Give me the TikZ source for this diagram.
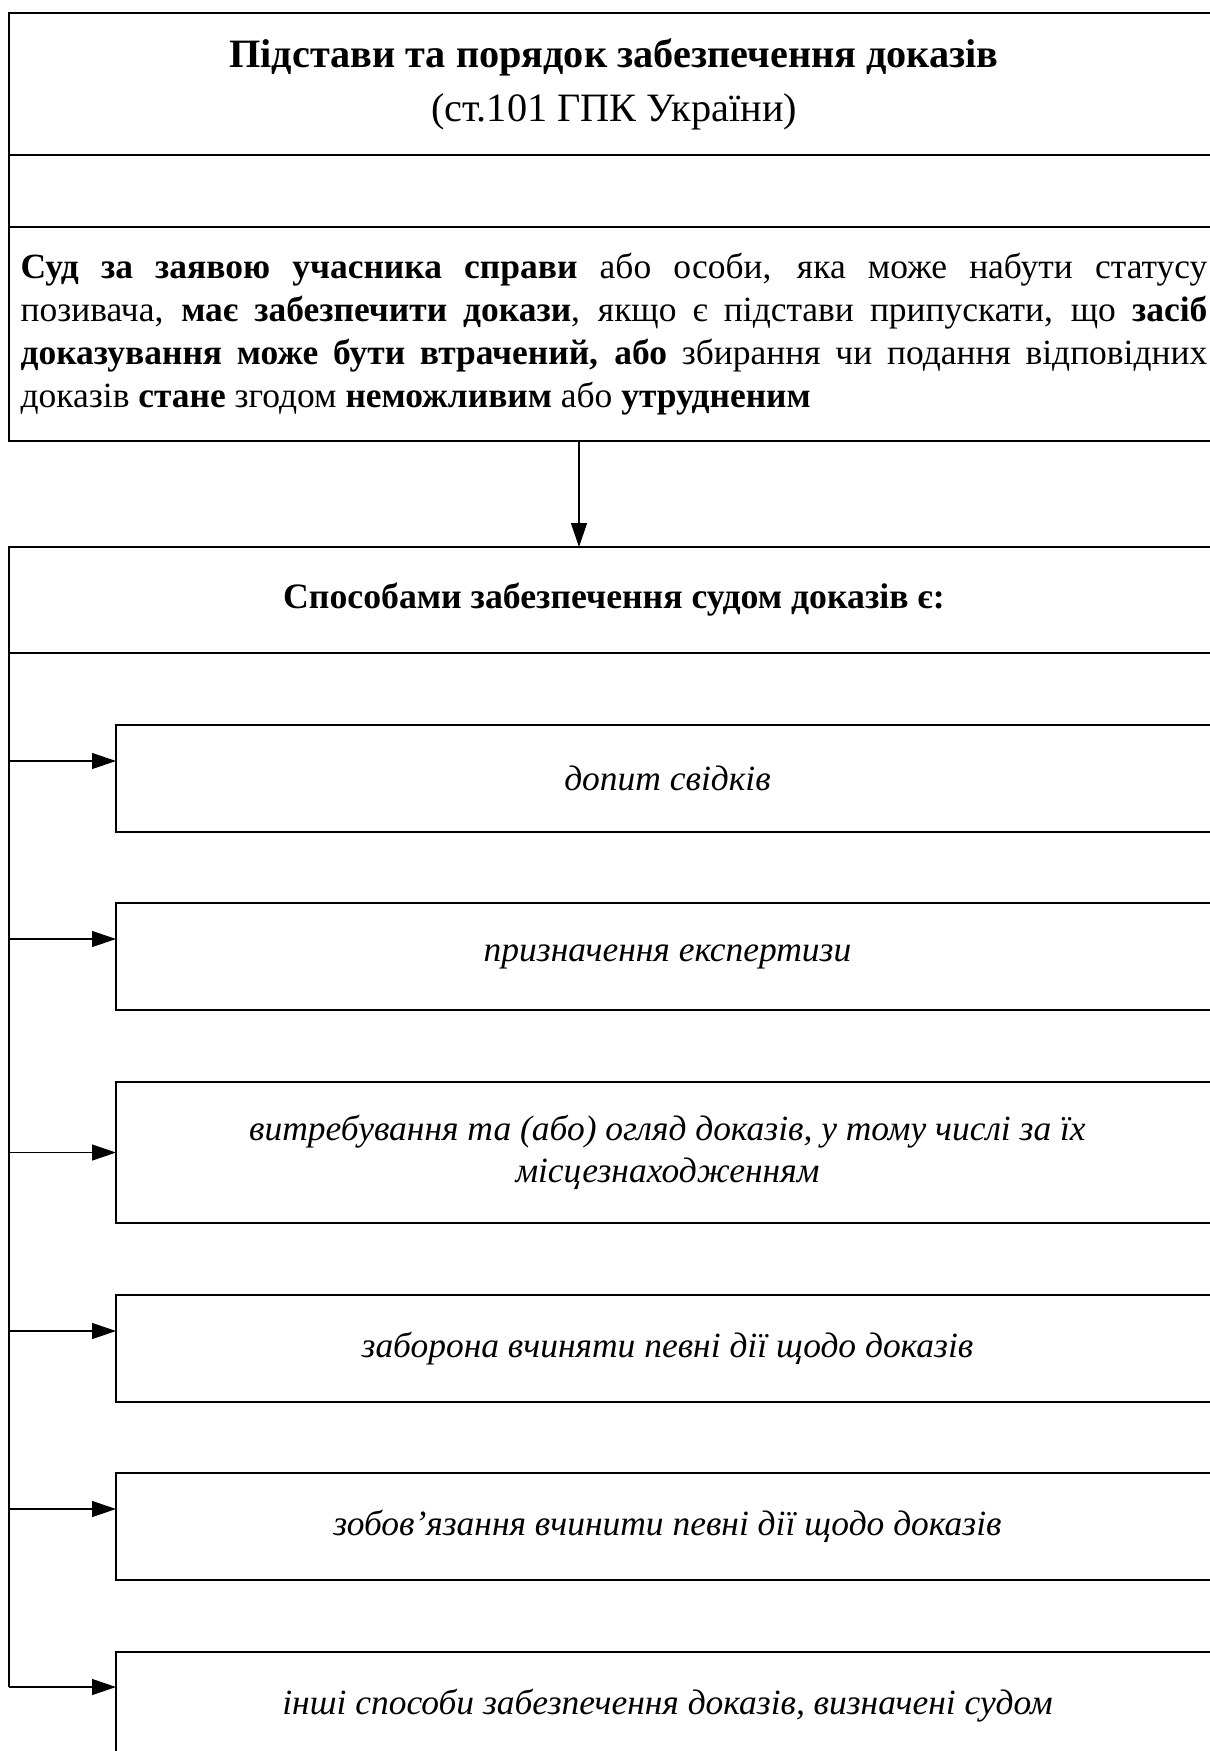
\documentclass[tikz,border=0pt]{standalone}
\usepackage{fontspec}
\setmainfont{Liberation Serif}
\usetikzlibrary{arrows.meta,positioning,calc}

\begin{document}
\begin{tikzpicture}[x=0.375pt,y=-0.375pt,
  hdbox/.style={draw,line width=0.8pt,inner sep=0pt,outer sep=0pt,align=center},
  txtbox/.style={draw,line width=0.5pt,inner sep=0pt,outer sep=0pt},
  itembox/.style={draw,line width=0.5pt,inner sep=0pt,outer sep=0pt,minimum width=413.6pt,
    minimum height=40.1pt,align=center,font=\fontsize{13.3}{15.6}\selectfont\itshape},
  arr/.style={-{Triangle[length=9pt,width=6pt]},line width=0.45pt}
]
  \clip (0,0) rectangle (1210,1751);
  % Heading block
  \node[hdbox,minimum width=453.75pt,minimum height=53.25pt,anchor=north west,
    font=\fontsize{15.1}{20.2}\selectfont] (title) at (9,13) {
    \textbf{Підстави та порядок забезпечення доказів}\\(ст.101 ГПК України)};
  \node[txtbox,minimum width=453.75pt,minimum height=27pt,below=0pt of title] (blank) {};
  \node[txtbox,minimum width=453.75pt,minimum height=80.25pt,text width=445pt,align=justify,
    font=\fontsize{13.3}{16.1}\selectfont,below=0pt of blank] (body) {
    \textbf{Суд за заявою учасника справи} або особи, яка може набути статусу\linebreak
    позивача, \textbf{має забезпечити докази}, якщо є підстави припускати, що \textbf{засіб}\linebreak
    \textbf{доказування може бути втрачений, або} збирання чи подання відповідних\linebreak
    доказів \textbf{стане} згодом \textbf{неможливим} або \textbf{утрудненим}};
  % Ways
  \node[hdbox,minimum width=453.75pt,minimum height=39.75pt,anchor=north west,
    font=\fontsize{13.4}{16}\selectfont\bfseries] (head) at (9,547) {Способами забезпечення судом доказів є:};
  \coordinate (ax) at (579,0);
  \draw[arr] (body.south -| ax) -- (head.north -| ax);
  \node[itembox,anchor=north west] (i1) at (116,725) {допит свідків};
  \node[itembox,anchor=north west] (i2) at (116,903) {призначення експертизи};
  \node[itembox,anchor=north west,minimum height=52.9pt] (i3) at (116,1082) {
    витребування та (або) огляд доказів, у тому числі за їх\\місцезнаходженням};
  \node[itembox,anchor=north west] (i4) at (116,1295) {заборона вчиняти певні дії щодо доказів};
  \node[itembox,anchor=north west] (i5) at (116,1473) {зобов’язання вчинити певні дії щодо доказів};
  \node[itembox,anchor=north west] (i6) at (116,1652) {інші способи забезпечення доказів, визначені судом};
  % Arrows
  \coordinate (p1) at ($(i1.north west)+(0,36)$);
  \coordinate (p2) at ($(i2.north west)+(0,36)$);
  \coordinate (p3) at (i3.west);
  \coordinate (p4) at ($(i4.north west)+(0,36)$);
  \coordinate (p5) at ($(i5.north west)+(0,36)$);
  \coordinate (p6) at ($(i6.north west)+(0,35)$);
  \draw[line width=0.45pt] (head.south west) -- (head.south west |- p6);
  \foreach \p in {p1,p2,p3,p4,p5,p6}
    \draw[arr] (head.south west |- \p) -- (\p);
\end{tikzpicture}
\end{document}
